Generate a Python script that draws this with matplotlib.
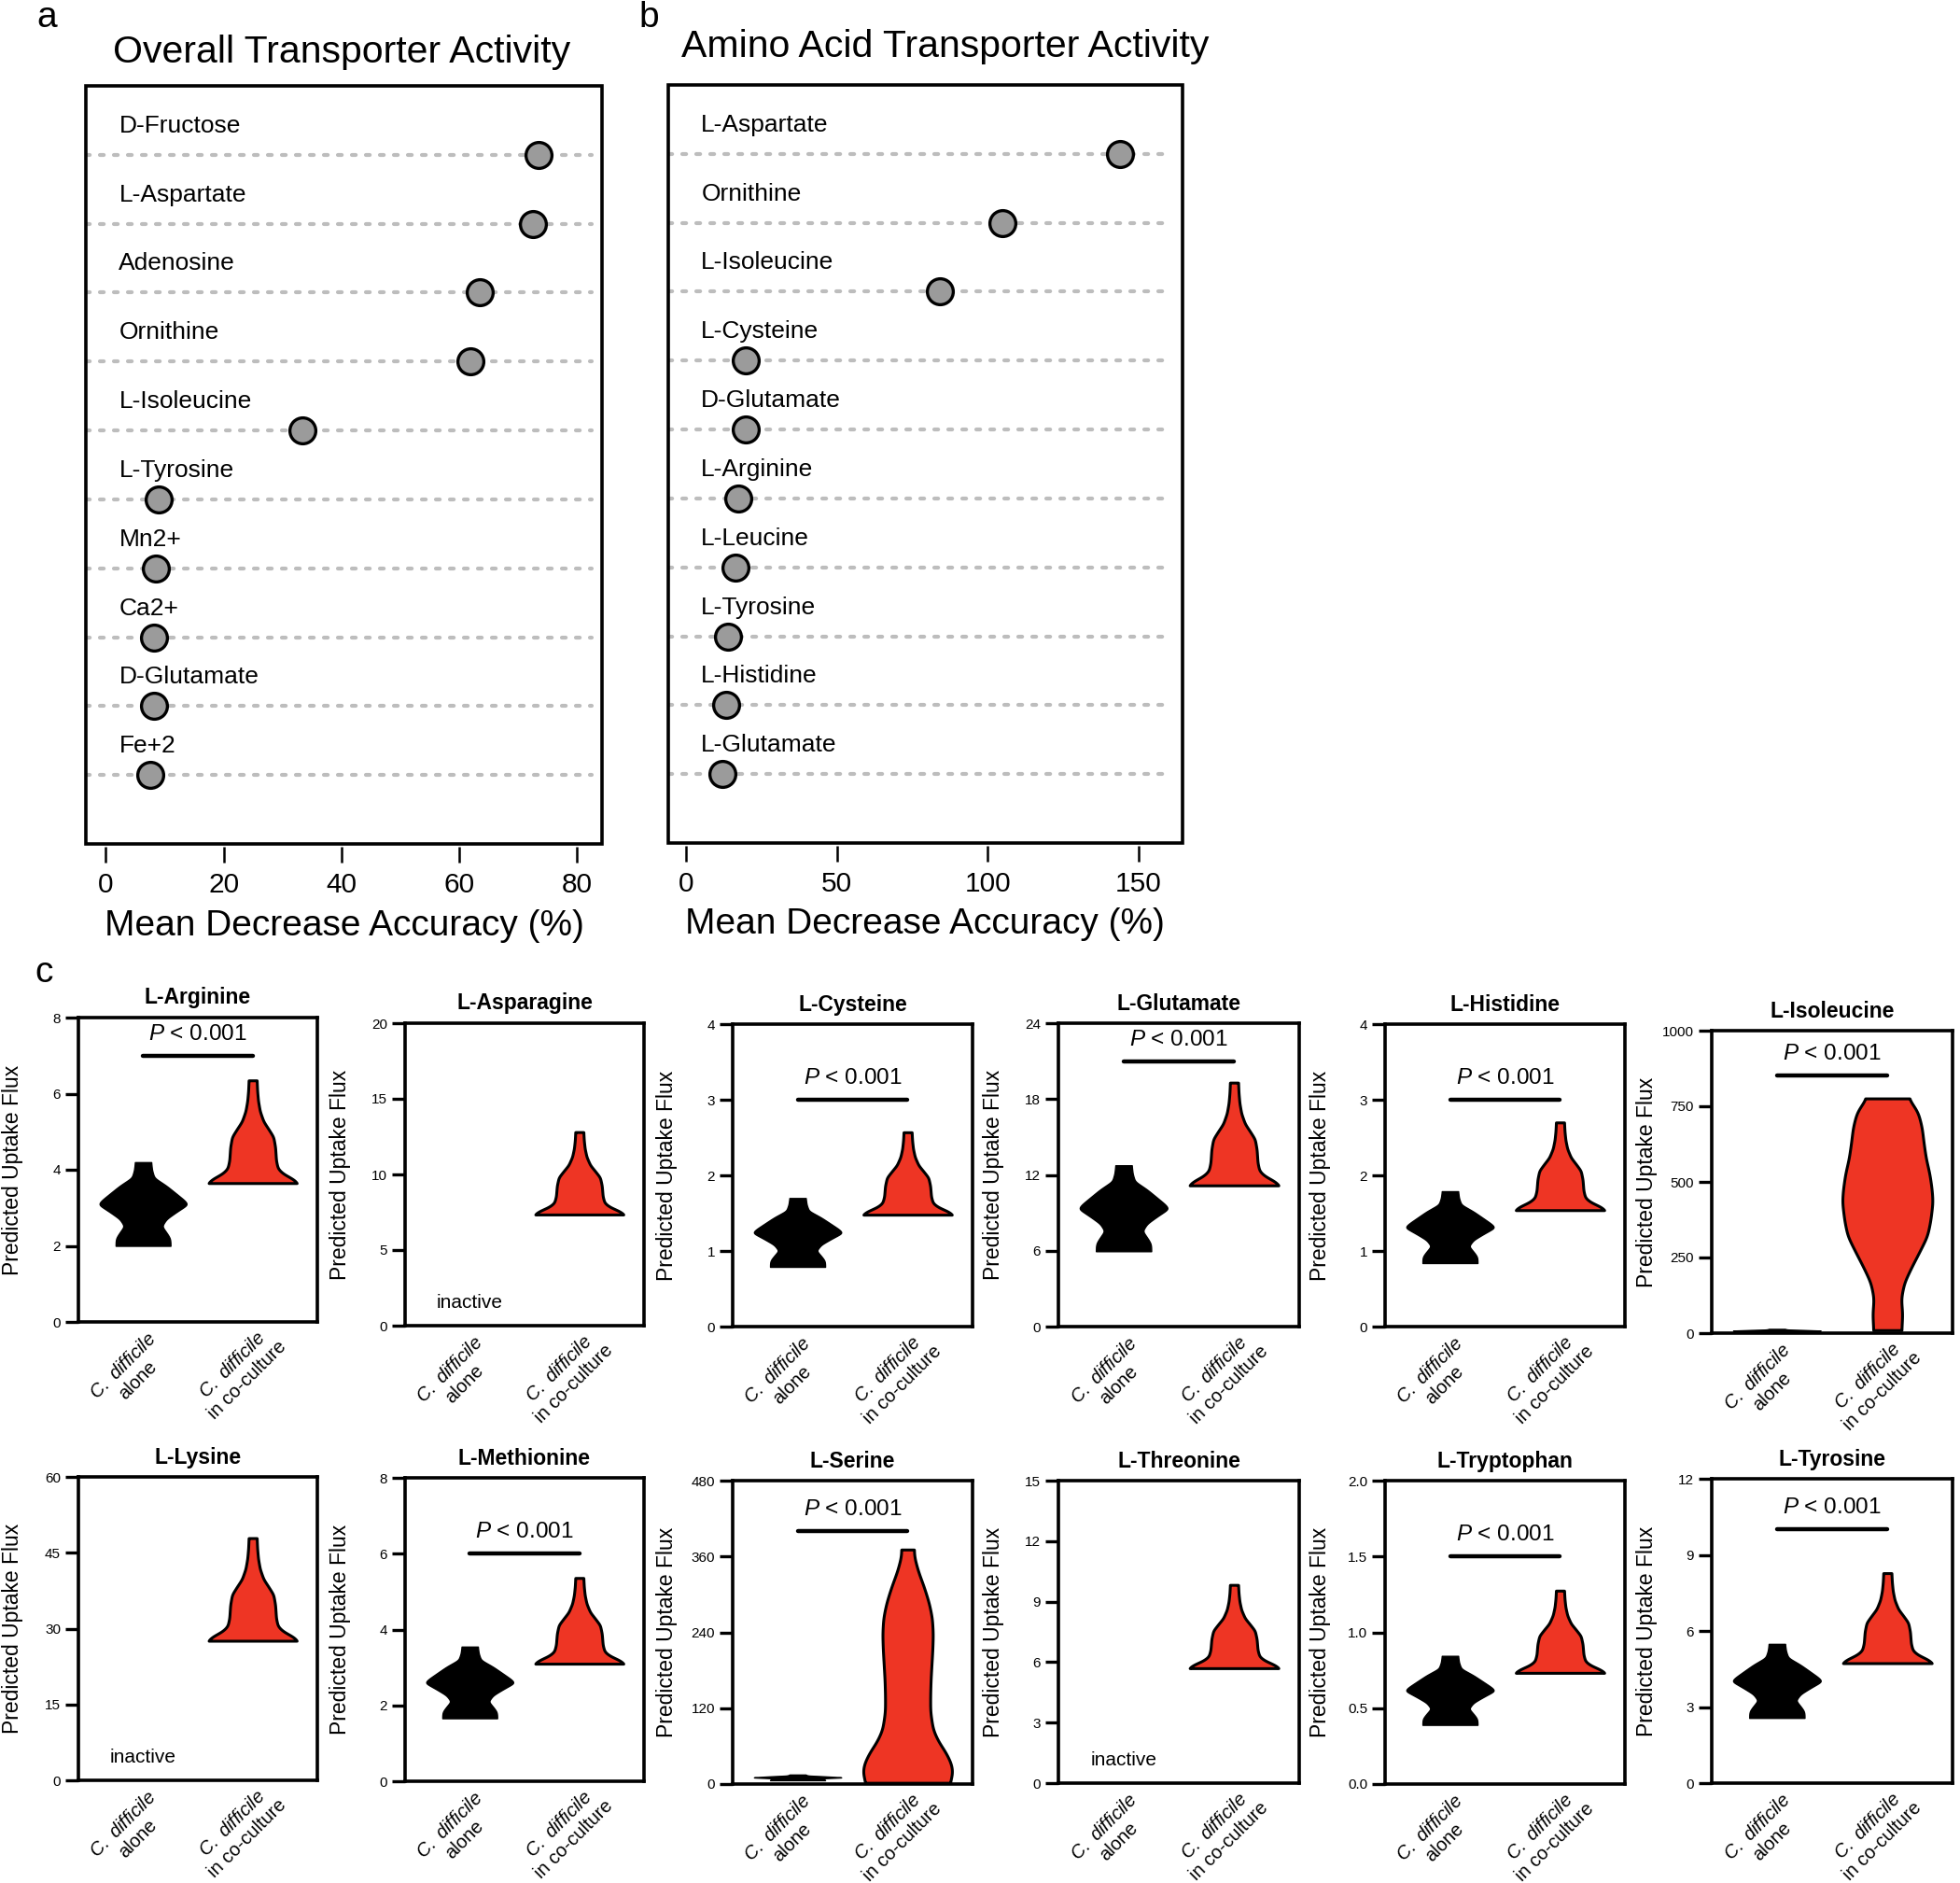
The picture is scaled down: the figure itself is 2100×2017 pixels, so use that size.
import numpy as np
import matplotlib
matplotlib.use("Agg")
import matplotlib.pyplot as plt
from matplotlib.patches import Rectangle
from matplotlib.transforms import blended_transform_factory

plt.rcParams['font.family'] = ['Liberation Sans', 'DejaVu Sans']
plt.rcParams['mathtext.fontset'] = 'custom'
plt.rcParams['mathtext.it'] = 'Liberation Sans:italic'
plt.rcParams['mathtext.rm'] = 'Liberation Sans'

# ---------------- data ----------------
a_labels = ["D-Fructose", "L-Aspartate", "Adenosine", "Ornithine", "L-Isoleucine",
            "L-Tyrosine", "Mn2+", "Ca2+", "D-Glutamate", "Fe+2"]
a_values = [73.4, 72.4, 63.4, 61.8, 33.3, 8.9, 8.5, 8.1, 8.1, 7.6]
a_ticks = [0, 20, 40, 60, 80]

b_labels = ["L-Aspartate", "Ornithine", "L-Isoleucine", "L-Cysteine", "D-Glutamate",
            "L-Arginine", "L-Leucine", "L-Tyrosine", "L-Histidine", "L-Glutamate"]
b_values = [143.8, 104.8, 84.1, 19.9, 19.9, 17.4, 16.6, 14.1, 13.3, 12.0]
b_ticks = [0, 50, 100, 150]

c_names = ["L-Arginine", "L-Asparagine", "L-Cysteine", "L-Glutamate", "L-Histidine",
           "L-Isoleucine", "L-Lysine", "L-Methionine", "L-Serine", "L-Threonine",
           "L-Tryptophan", "L-Tyrosine"]
c_ymax = [8, 20, 4, 24, 4, 1000, 60, 8, 480, 15, 2.0, 12]
c_ystep = [2, 5, 1, 6, 1, 250, 15, 2, 120, 3, 0.5, 3]
alone_min = [2.0, None, 0.79, 5.96, 0.84, 2, None, 1.66, 6, None, 0.39, 2.57]
alone_max = [4.2, None, 1.70, 12.76, 1.79, 14, None, 3.55, 15, None, 0.845, 5.49]
cocult_min = [3.65, 7.35, 1.48, 11.17, 1.54, 10, 27.6, 3.10, 2, 5.7, 0.733, 4.73]
cocult_max = [6.35, 12.8, 2.57, 19.3, 2.70, 776, 47.9, 5.36, 371, 9.83, 1.275, 8.28]
pbar = [7.0, None, 3.0, 21.0, 3.0, 851, None, 6.0, 400, None, 1.5, 10.0]
groups = ["$\\mathit{C.\\ difficile}$\nalone", "$\\mathit{C.\\ difficile}$\nin co-culture"]

# violin outline profiles (fraction of range -> relative half width)
alone_t = [0, 0.045, 0.09, 0.136, 0.236, 0.32, 0.40, 0.495, 0.545, 0.645, 0.718, 0.814, 0.905, 1.0]
alone_w = [0.61, 0.61, 0.60, 0.55, 0.42, 0.52, 0.73, 1.0, 0.92, 0.69, 0.52, 0.25, 0.20, 0.18]
cocult_t = [0, 0.04, 0.09, 0.14, 0.22, 0.35, 0.45, 0.52, 0.60, 0.70, 0.80, 0.90, 1.0]
cocult_w = [1.0, 0.90, 0.68, 0.56, 0.52, 0.50, 0.46, 0.36, 0.24, 0.16, 0.12, 0.10, 0.09]
ile_v = [10, 64, 115, 167, 218, 270, 321, 372, 434, 475, 527, 578, 630, 681, 733, 776]
ile_w = [0.31, 0.33, 0.30, 0.37, 0.53, 0.71, 0.88, 0.95, 1.0, 0.98, 0.93, 0.85, 0.80, 0.76, 0.67, 0.46]
ser_v = [2, 17, 32, 52, 66, 86, 115, 140, 165, 214, 238, 263, 287, 312, 337, 361, 371]
ser_w = [0.93, 1.0, 0.97, 0.83, 0.69, 0.56, 0.50, 0.50, 0.51, 0.55, 0.56, 0.54, 0.47, 0.36, 0.23, 0.14, 0.14]

# ---------------- layout helpers ----------------
W, H = 2100, 2017
fig = plt.figure(figsize=(21, 20.17), dpi=100)


def rect(l, r, t, b):
    return [l / W, 1 - b / H, (r - l) / W, (b - t) / H]


def ftext(x, y, s, **kw):
    fig.text(x / W, 1 - y / H, s, **kw)


def dotpanel(box, labels, values, xlim, xticks):
    ax = fig.add_axes(rect(*box))
    n = len(labels)
    rows = np.arange(1, n + 1)
    for r in rows:
        ax.axhline(r, xmin=0, xmax=0.98, color='#BDBDBD', lw=3.0,
                   ls=(0, (1.0, 2.6)), dash_capstyle='round', zorder=1)
    ax.plot(values, rows, 'o', ms=20, mfc='#9B9B9B', mec='black', mew=2.4,
            zorder=3, clip_on=False)
    tr = blended_transform_factory(ax.transAxes, ax.transData)
    for r, lab in zip(rows, labels):
        ax.text(0.064, r - 0.42, lab, transform=tr, fontsize=19, va='center', ha='left')
    ax.set_xlim(xlim)
    ax.set_ylim(n + 1, 0)
    ax.set_yticks([])
    ax.set_xticks(xticks)
    for s in ax.spines.values():
        s.set_visible(False)
    ax.spines['bottom'].set_position(('outward', 2.5))
    ax.add_patch(Rectangle((0, 0), 1, 1, transform=ax.transAxes, fill=False, lw=2.6,
                           ec='black', clip_on=False, zorder=5))
    ax.tick_params(axis='x', length=12, width=1.8, pad=7, labelsize=21.5, direction='out')
    return ax


# ---------------- panels a, b ----------------
dotpanel((92, 645, 92, 904), a_labels, a_values, (-3.4, 84.2), a_ticks)
dotpanel((716, 1267, 91, 903), b_labels, b_values, (-5.8, 164.5), b_ticks)

ftext(50, 19, "a", fontsize=28, ha='center', va='center')
ftext(695, 19, "b", fontsize=28, ha='center', va='center')
ftext(47, 1042, "c", fontsize=28, ha='center', va='center')
ftext(366, 56, "Overall Transporter Activity", fontsize=29.5, ha='center', va='center')
ftext(1013, 50, "Amino Acid Transporter Activity", fontsize=29.5, ha='center', va='center')
ftext(369, 992, "Mean Decrease Accuracy (%)", fontsize=28, ha='center', va='center')
ftext(991, 990, "Mean Decrease Accuracy (%)", fontsize=28, ha='center', va='center')

# ---------------- panel c ----------------
boxes = [
    (84, 340, 1090, 1416), (434, 690, 1096, 1420), (785, 1042, 1097, 1421),
    (1134, 1392, 1096, 1421), (1484, 1741, 1097, 1421), (1834, 2092, 1104, 1428),
    (84, 340, 1582, 1907), (434, 690, 1583, 1908), (785, 1042, 1586, 1911),
    (1134, 1392, 1586, 1910), (1484, 1741, 1586, 1911), (1834, 2092, 1584, 1910),
]
HALF = 0.41
RED = '#EE3524'


def smooth_profile(tk, wk, npts=300, sig=6):
    t = np.linspace(0, 1, npts)
    w = np.interp(t, tk, wk)
    k = np.exp(-0.5 * (np.arange(-3 * sig, 3 * sig + 1) / sig) ** 2)
    k /= k.sum()
    wp = np.pad(w, 3 * sig, mode='edge')
    return t, np.convolve(wp, k, mode='valid')


def violin(ax, pos, vmin, vmax, tk, wk, face, edge, lw):
    t, w = smooth_profile(tk, wk)
    y = vmin + t * (vmax - vmin)
    half = w * HALF
    ax.fill_betweenx(y, pos - half, pos + half, facecolor=face, edgecolor=edge,
                     linewidth=lw, joinstyle='round', zorder=3)


for i, name in enumerate(c_names):
    l, r, t, b = boxes[i]
    wpx, hpx = r - l, b - t
    ax = fig.add_axes(rect(l, r, t, b))
    ax.set_xlim(0.41, 2.59)
    ax.set_ylim(0, c_ymax[i])
    yt = np.arange(0, c_ymax[i] + c_ystep[i] / 2, c_ystep[i])
    ax.set_yticks(yt)
    if c_ystep[i] < 1:
        ax.set_yticklabels([f"{v:.1f}" for v in yt])
    else:
        ax.set_yticklabels([f"{int(round(v))}" for v in yt])
    ax.set_xticks([])
    for s in ax.spines.values():
        s.set_linewidth(2.6)
    ax.tick_params(axis='y', length=10, width=2.4, pad=3.6, labelsize=11)

    if alone_min[i] is not None:
        violin(ax, 1, alone_min[i], alone_max[i], alone_t, alone_w, 'black', 'black', 1.0)
    if name == "L-Isoleucine":
        tk = (np.array(ile_v) - cocult_min[i]) / (cocult_max[i] - cocult_min[i])
        violin(ax, 2, cocult_min[i], cocult_max[i], tk, ile_w, RED, 'black', 2.2)
    elif name == "L-Serine":
        tk = (np.array(ser_v) - cocult_min[i]) / (cocult_max[i] - cocult_min[i])
        violin(ax, 2, cocult_min[i], cocult_max[i], tk, ser_w, RED, 'black', 2.2)
    else:
        violin(ax, 2, cocult_min[i], cocult_max[i], cocult_t, cocult_w, RED, 'black', 2.2)

    if pbar[i] is not None:
        ax.plot([1, 2], [pbar[i], pbar[i]], color='black', lw=3.2,
                solid_capstyle='round', zorder=4)
        ax.annotate("$\\mathit{P}$ < 0.001", xy=(1.5, pbar[i]), xytext=(0, 16.5),
                    textcoords='offset points', ha='center', va='center', fontsize=17.5)
    else:
        ax.text(1.0, 0.075, "inactive", transform=blended_transform_factory(ax.transData, ax.transAxes),
                ha='center', va='center', fontsize=15)

    ax.text(0.5, 1 + 21 / hpx, name, transform=ax.transAxes, ha='center', va='center',
            fontsize=16.5, fontweight='bold')
    ax.text(-70 / wpx, 0.5, "Predicted Uptake Flux", transform=ax.transAxes, rotation=90,
            ha='center', va='center', fontsize=16.5)

    ax.annotate(groups[0], xy=(1, 0), xycoords=('data', 'axes fraction'),
                xytext=(-9.5, -39.5), textcoords='offset points', rotation=45,
                ha='center', va='center', multialignment='center', fontsize=14.5)
    ax.annotate(groups[1], xy=(2, 0), xycoords=('data', 'axes fraction'),
                xytext=(-9.7, -39.0), textcoords='offset points', rotation=45,
                ha='center', va='center', multialignment='center', fontsize=14.5)

fig.savefig("out.png", dpi=100)
